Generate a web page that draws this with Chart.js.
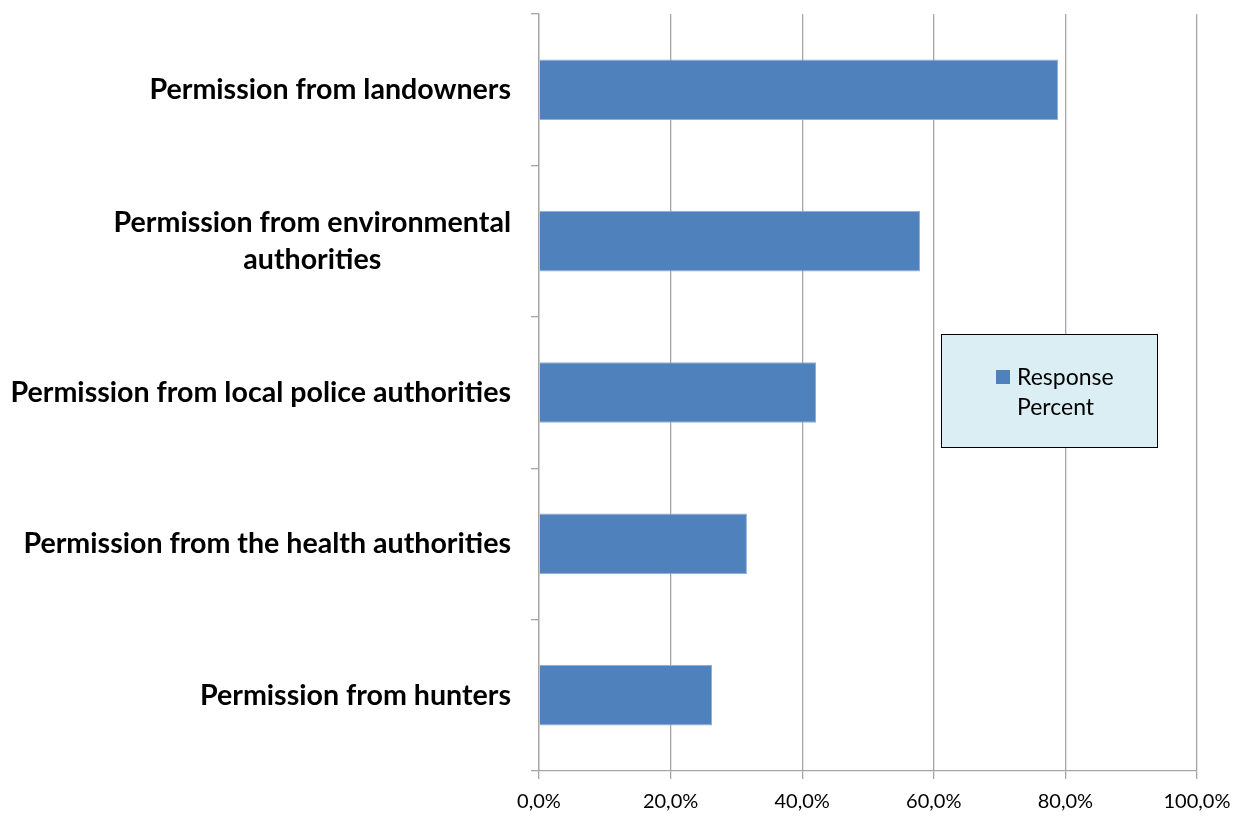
<!DOCTYPE html>
<html>
<head>
<meta charset="utf-8">
<script src="https://cdn.jsdelivr.net/npm/chart.js@4.4.1/dist/chart.umd.min.js"></script>
<style>
  html, body { margin: 0; padding: 0; background: #ffffff; }
  #wrap { width: 1245px; height: 819px; position: relative; }
</style>
</head>
<body>
<div id="wrap"><canvas id="chart" width="1245" height="819"></canvas></div>
<script>
// Categories, top to bottom (multi-line labels as arrays)
var categories = [
    'Permission from landowners',
    ['Permission from environmental', 'authorities'],
    'Permission from local police authorities',
    'Permission from the health authorities',
    'Permission from hunters'
];

// Response percent per category
var responsePercent = [78.9, 57.9, 42.1, 31.6, 26.3];

// Value axis ticks
var xTicks = [0, 20, 40, 60, 80, 100];

var seriesName = 'Response Percent';
var barColor = '#4f81bd';
var gridColor = '#a6a6a6';
var labelFont = 'Lato, "Open Sans", sans-serif';

// Category labels: right-aligned block, each line centered inside it
var categoryLabels = {
    id: 'categoryLabels',
    afterDraw: function (chart) {
        var ctx = chart.ctx;
        var yScale = chart.scales.y;
        var right = yScale.right - 28;
        var lineHeight = 37;
        ctx.save();
        ctx.font = 'bold 28.6px ' + labelFont;
        ctx.fillStyle = '#000000';
        ctx.textAlign = 'center';
        ctx.textBaseline = 'middle';
        chart.data.labels.forEach(function (label, i) {
            var lines = Array.isArray(label) ? label : [label];
            var maxW = 0;
            lines.forEach(function (l) {
                maxW = Math.max(maxW, ctx.measureText(l).width);
            });
            var cx = right - maxW / 2;
            var y0 = yScale.getPixelForValue(i) - (lines.length - 1) * lineHeight / 2;
            lines.forEach(function (l, j) {
                ctx.fillText(l, cx, y0 + j * lineHeight);
            });
        });
        ctx.restore();
    }
};

// Boxed legend sitting inside the plot area
var boxLegend = {
    id: 'boxLegend',
    afterDraw: function (chart) {
        var ctx = chart.ctx;
        var ds = chart.data.datasets[0];
        var words = ds.label.split(' ');
        ctx.save();
        ctx.fillStyle = '#dbeef4';
        ctx.fillRect(941, 334, 217, 114);
        ctx.strokeStyle = '#000000';
        ctx.lineWidth = 1;
        ctx.strokeRect(941.5, 334.5, 216, 113);
        ctx.fillStyle = ds.backgroundColor;
        ctx.fillRect(996, 370, 14, 14);
        ctx.fillStyle = '#000000';
        ctx.font = '23px ' + labelFont;
        ctx.textAlign = 'left';
        ctx.textBaseline = 'middle';
        ctx.fillText(words[0], 1017, 378);
        ctx.fillText(words.slice(1).join(' '), 1017, 408);
        ctx.restore();
    }
};

new Chart(document.getElementById('chart'), {
    type: 'bar',
    data: {
        labels: categories,
        datasets: [{
            label: seriesName,
            data: responsePercent,
            backgroundColor: barColor,
            borderColor: '#8eaedb',
            borderWidth: 1,
            borderSkipped: 'start',
            barPercentage: 0.4,
            categoryPercentage: 1.0
        }]
    },
    options: {
        indexAxis: 'y',
        responsive: false,
        animation: false,
        layout: { padding: { top: 14, right: 48, left: 0, bottom: 0 } },
        plugins: {
            legend: { display: false },
            tooltip: { enabled: false }
        },
        scales: {
            x: {
                min: 0,
                max: 100,
                afterBuildTicks: function (scale) {
                    scale.ticks = xTicks.map(function (v) { return { value: v }; });
                },
                afterFit: function (scale) { scale.height = 48; },
                grid: {
                    color: gridColor,
                    lineWidth: 1.3,
                    tickLength: 8
                },
                border: { color: gridColor, width: 1.3 },
                ticks: {
                    color: '#000000',
                    padding: 11,
                    font: { family: labelFont, size: 20 },
                    callback: function (v) {
                        return v.toFixed(1).replace('.', ',') + '%';
                    }
                }
            },
            y: {
                afterFit: function (scale) { scale.width = 539; },
                grid: {
                    offset: true,
                    drawOnChartArea: false,
                    color: gridColor,
                    lineWidth: 1.3,
                    tickLength: 8
                },
                border: { color: gridColor, width: 1.3 },
                ticks: { display: false }
            }
        }
    },
    plugins: [categoryLabels, boxLegend]
});
</script>
</body>
</html>
